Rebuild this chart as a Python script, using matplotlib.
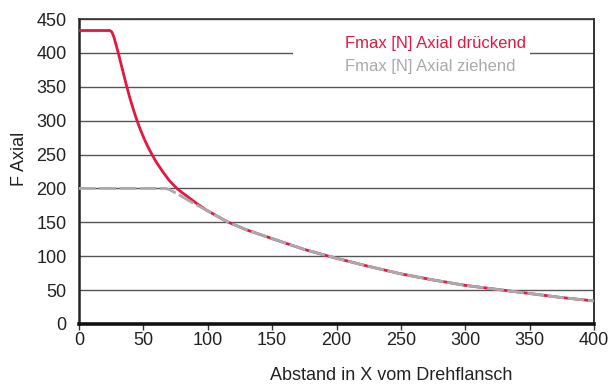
import matplotlib.pyplot as plt
from matplotlib import font_manager
from matplotlib.lines import Line2D

# Kraftverlauf ueber dem Abstand zum Drehflansch
x_druck = [0, 24, 25.5, 27, 28.5, 30.5, 33, 35, 37, 39, 41, 43, 45, 47, 50, 53, 56.4,
           60, 65.5, 70, 76, 80, 85, 92, 99, 115, 130, 150,
           175, 194, 200, 225, 250, 275, 300, 325, 350, 375, 400]
f_druck = [433, 433, 431, 424, 414, 400, 381, 366, 351, 337, 324, 312, 300.5, 290, 276, 263.5, 251,
           239, 223.5, 212, 200, 194, 187, 177, 168, 151, 139, 126,
           110, 100, 97, 85, 74, 65, 57, 51, 45, 39, 34]

x_zug = [0, 67, 70, 73, 77, 80, 85, 90, 99, 115, 130, 150, 175, 194, 200, 225, 250, 275,
         300, 325, 350, 375, 400]
f_zug = [200, 200, 198.5, 195.5, 191.5, 188, 182.5, 177, 168, 151, 139, 126, 110, 100, 97,
         85, 74, 65, 57, 51, 45, 39, 34]

labels = ['Fmax [N] Axial drückend', 'Fmax [N] Axial ziehend']
rot = '#e3173f'
grau = '#aaaaad'

names = {f.name for f in font_manager.fontManager.ttflist}
if 'Liberation Sans Narrow' in names:
    plt.rcParams['font.family'] = 'Liberation Sans Narrow'
    fs, fs_leg = 14, 14
else:
    plt.rcParams['font.family'] = 'Liberation Sans'
    fs, fs_leg = 13, 12

fig = plt.figure(figsize=(6.12, 3.88), dpi=100)
ax = fig.add_axes([79 / 612, 64 / 388, 515 / 612, 305 / 388])

ax.plot(x_druck, f_druck, color=rot, lw=2.0, zorder=3, solid_joinstyle='round')
ax.plot(x_zug, f_zug, color=grau, lw=2.0, dashes=(6, 1.3), zorder=4)

ax.set_xlim(0, 400)
ax.set_ylim(0, 450)
ax.set_xticks(range(0, 401, 50))
ax.set_yticks(range(0, 451, 50))
ax.yaxis.grid(True, color='#555555', lw=1.0)
ax.set_axisbelow(True)

ax.tick_params(axis='x', direction='out', length=4, width=1, color='#333333',
               labelsize=fs, labelcolor='#222222', pad=2)
ax.tick_params(axis='y', length=0, labelsize=fs, labelcolor='#222222', pad=9)
ax.set_yticks([0], minor=True)
ax.tick_params(axis='y', which='minor', direction='out', length=4, width=1, color='#333333')

ax.spines['left'].set_linewidth(1.8)
ax.spines['left'].set_color('#222222')
ax.spines['bottom'].set_linewidth(2.6)
ax.spines['bottom'].set_color('#111111')
ax.spines['top'].set_linewidth(1.2)
ax.spines['top'].set_color('#333333')
ax.spines['right'].set_linewidth(1.3)
ax.spines['right'].set_color('#222222')

ax.set_xlabel('Abstand in X vom Drehflansch', fontsize=fs, color='#222222')
ax.xaxis.set_label_coords(0.606, -0.14)
ax.set_ylabel('F Axial', fontsize=fs, color='#222222')
ax.yaxis.set_label_coords(-0.099, 0.54)

handles = [Line2D([], [], color='none'), Line2D([], [], color='none')]
leg = ax.legend(handles, labels, loc='upper left', bbox_to_anchor=(0.4155, 0.957),
                borderaxespad=0, borderpad=0.25, handlelength=2.45, handletextpad=0.4,
                labelspacing=0.45, fontsize=fs_leg, labelcolor=[rot, grau],
                frameon=True, fancybox=False, facecolor='white', edgecolor='none',
                framealpha=1)

fig.savefig('out.png', dpi=100)
